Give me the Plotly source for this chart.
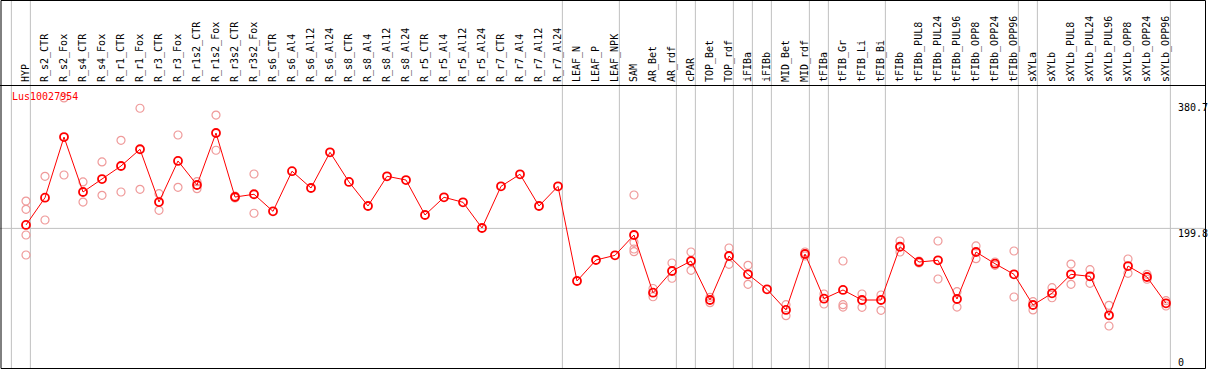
import plotly.graph_objects as go

categories = ["HYP", "R_s2_CTR", "R_s2_Fox", "R_s4_CTR", "R_s4_Fox", "R_r1_CTR", "R_r1_Fox",
              "R_r3_CTR", "R_r3_Fox", "R_r1s2_CTR", "R_r1s2_Fox", "R_r3s2_CTR", "R_r3s2_Fox",
              "R_s6_CTR", "R_s6_Al4", "R_s6_Al12", "R_s6_Al24", "R_s8_CTR", "R_s8_Al4", "R_s8_Al12",
              "R_s8_Al24", "R_r5_CTR", "R_r5_Al4", "R_r5_Al12", "R_r5_Al24", "R_r7_CTR", "R_r7_Al4",
              "R_r7_Al12", "R_r7_Al24", "LEAF_N", "LEAF_P", "LEAF_NPK", "SAM", "AR_Bet", "AR_rdf",
              "cPAR", "TOP_Bet", "TOP_rdf", "iFIBa", "iFIBb", "MID_Bet", "MID_rdf", "tFIBa",
              "tFIB_Gr", "tFIB_Li", "tFIB_Bi", "tFIBb", "tFIBb_PUL8", "tFIBb_PUL24", "tFIBb_PUL96",
              "tFIBb_OPP8", "tFIBb_OPP24", "tFIBb_OPP96", "sXYLa", "sXYLb", "sXYLb_PUL8",
              "sXYLb_PUL24", "sXYLb_PUL96", "sXYLb_OPP8", "sXYLb_OPP24", "sXYLb_OPP96"]

means = [204.9, 245.7, 336.4, 254.2, 273.6, 293.1, 318.1, 239.2, 300.6, 264.7, 342.4, 246.7, 250.8,
         225.3, 285.3, 260.2, 313.6, 269.2, 233.3, 277.7, 272.1, 219.8, 246.3, 238.8, 200.4, 262.7,
         280.7, 233.3, 262.7, 121.1, 152.5, 159.5, 189.9, 103.6, 136.1, 151.0, 92.7, 158.5, 131.1,
         108.7, 77.8, 161.5, 94.7, 107.7, 92.7, 92.7, 172.3, 149.5, 152.1, 94.2, 164.5, 147.0,
         131.1, 85.2, 102.7, 131.1, 128.1, 69.8, 143.5, 127.1, 87.8]

replicates = [
    [240.7, 228.3, 189.9, 160.0],   # HYP
    [277.7, 212.3],                 # R_s2_CTR
    [394.8, 279.6],                 # R_s2_Fox
    [269.2, 239.2],                 # R_s4_CTR
    [299.1, 249.3],                 # R_s4_Fox
    [331.5, 254.2],                 # R_r1_CTR
    [379.4, 258.2],                 # R_r1_Fox
    [251.7, 226.8],                 # R_r3_CTR
    [339.4, 261.2],                 # R_r3_Fox
    [269.6, 259.1],                 # R_r1s2_CTR
    [369.3, 316.6],                 # R_r1s2_Fox
    [248.2, 245.2],                 # R_r3s2_CTR
    [281.1, 222.4],                 # R_r3s2_Fox
    [], [], [], [], [], [], [], [], [], [], [], [], [], [], [], [],  # R_s6 .. R_r7
    [], [], [],                     # LEAF_N, LEAF_P, LEAF_NPK
    [249.7, 179.0, 169.0, 164.9],   # SAM
    [109.9, 97.6],                  # AR_Bet
    [148.0, 125.2],                 # AR_rdf
    [164.5, 137.1],                 # cPAR
    [96.7, 88.7],                   # TOP_Bet
    [170.5, 146.1],                 # TOP_rdf
    [144.6, 116.2],                 # iFIBa
    [],                             # iFIBb
    [85.7, 69.2],                   # MID_Bet
    [164.5, 158.5],                 # MID_rdf
    [101.7, 86.7],                  # tFIBa
    [151.0, 85.7, 82.2],            # tFIB_Gr
    [101.7, 81.8],                  # tFIB_Li
    [100.2, 77.3],                  # tFIB_Bi
    [180.9, 164.5],                 # tFIBb
    [151.0, 148.0],                 # tFIBb_PUL8
    [180.9, 124.1],                 # tFIBb_PUL24
    [105.1, 82.2],                  # tFIBb_PUL96
    [173.5, 154.5],                 # tFIBb_OPP8
    [149.5, 144.6],                 # tFIBb_OPP24
    [166.0, 97.2],                  # tFIBb_OPP96
    [90.2, 77.8],                   # sXYLa
    [111.1, 96.1],                  # sXYLb
    [146.5, 116.2],                 # sXYLb_PUL8
    [138.0, 117.7],                 # sXYLb_PUL24
    [84.8, 53.8],                   # sXYLb_PUL96
    [154.0, 132.6],                 # sXYLb_OPP8
    [131.1, 123.7],                 # sXYLb_OPP24
    [91.7, 83.7],                   # sXYLb_OPP96
]

axis_labels = [380.7, 199.8, 0]
gene = "Lus10027954"
# categories after which a separator line is drawn (-1 = before the first)
group_ends = [-1, 0, 28, 31, 34, 35, 37, 38, 39, 41, 42, 45, 52, 53, 60]

W, H = 1209, 370
T, B = 85, 2
PH = H - T - B
FONT = "DejaVu Sans Mono"

rx, ry = [], []
for i, reps in enumerate(replicates):
    for r in reps:
        rx.append(categories[i])
        ry.append(r)

fig = go.Figure()
fig.add_trace(go.Scatter(x=rx, y=ry, mode="markers",
                         marker=dict(symbol="circle-open", size=8, color="#ef9a9a",
                                     line=dict(width=1.2, color="#ef9a9a")),
                         hoverinfo="skip"))
fig.add_trace(go.Scatter(x=categories, y=means, mode="lines+markers",
                         line=dict(color="#ff0000", width=1),
                         marker=dict(symbol="circle-open", size=8, color="#ff0000",
                                     line=dict(width=1.8, color="#ff0000"))))

def py(p):
    return (H - B - p) / PH

shapes = []
for g in group_ends:
    shapes.append(dict(type="line", xref="x", yref="paper", x0=g + 0.23, x1=g + 0.23,
                       y0=py(368), y1=py(0), line=dict(color="#c0c0c0", width=1), layer="below"))
shapes.append(dict(type="line", xref="paper", yref="y", x0=0, x1=1205 / W, y0=axis_labels[1],
                   y1=axis_labels[1], line=dict(color="#c0c0c0", width=1), layer="below"))
# frame
shapes.append(dict(type="rect", xref="paper", yref="paper", x0=1 / W, x1=1205.5 / W,
                   y0=py(368.5), y1=py(0.5), line=dict(color="black", width=1)))
shapes.append(dict(type="line", xref="paper", yref="paper", x0=0, x1=1205.5 / W,
                   y0=py(85.5), y1=py(85.5), line=dict(color="black", width=1)))

annotations = [dict(text=gene, xref="paper", yref="paper", x=10 / W, y=py(97), xanchor="left",
                    yanchor="middle", showarrow=False, font=dict(family=FONT, size=10, color="#ff0000"))]
shifts = [0, -5, 0]
for v, s in zip(axis_labels, shifts):
    annotations.append(dict(text=("%g" % v), xref="paper", yref="y", x=1176 / W, y=v, yshift=s,
                            xanchor="left", yanchor="middle", showarrow=False,
                            font=dict(family=FONT, size=10, color="black")))

fig.update_layout(
    width=W, height=H, margin=dict(l=0, r=0, t=T, b=B),
    paper_bgcolor="white", plot_bgcolor="white", showlegend=False,
    shapes=shapes, annotations=annotations,
    xaxis=dict(type="category", categoryorder="array", categoryarray=categories,
               range=[-26 / 19, (W - 26) / 19], side="top", tickangle=-90,
               showgrid=False, zeroline=False, showline=False, ticks="",
               tickfont=dict(family=FONT, size=10, color="black"), ticklabelstandoff=2),
    yaxis=dict(range=[-6 * 1.4953, 277 * 1.4953], visible=False, showgrid=False, zeroline=False),
)

fig.write_html("out.html", config={"displayModeBar": False},
               post_script="document.body.style.margin='0';document.body.style.overflow='hidden';")
